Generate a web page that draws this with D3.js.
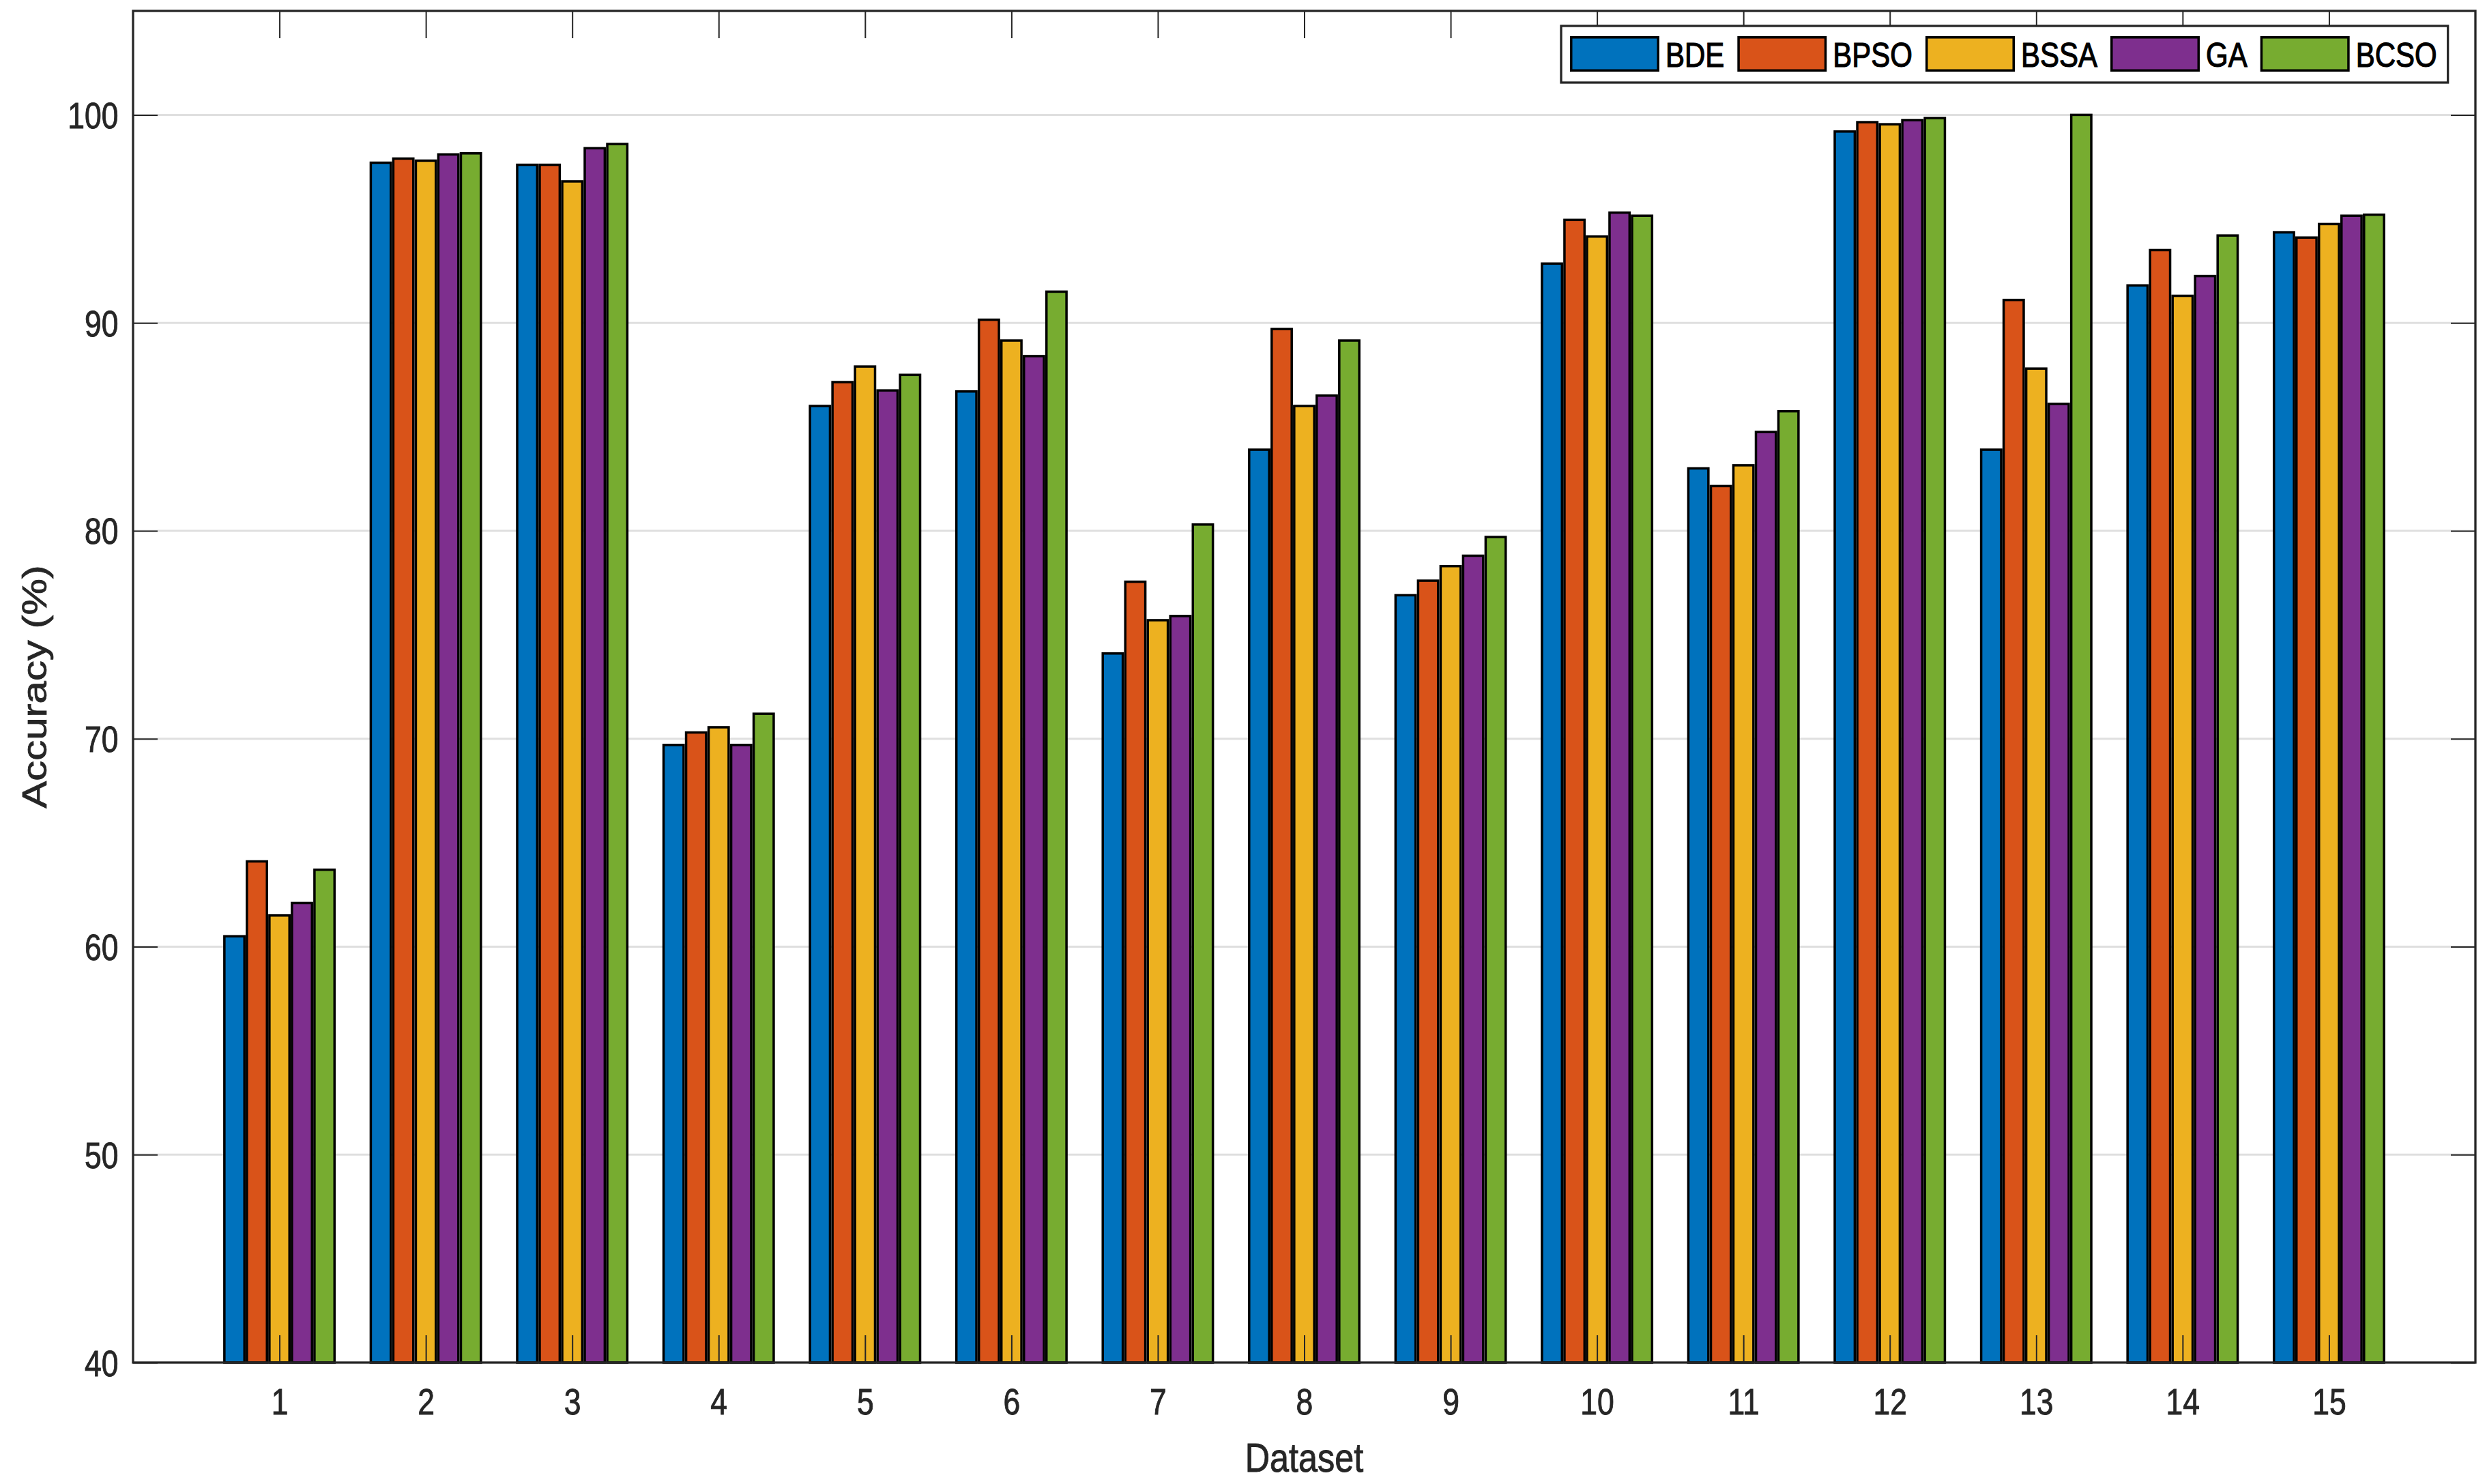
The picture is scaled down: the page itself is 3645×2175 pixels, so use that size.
<!DOCTYPE html>
<html>
<head>
<meta charset="utf-8">
<script src="https://cdn.jsdelivr.net/npm/d3@7"></script>
<style>
  html, body { margin: 0; padding: 0; background: #ffffff; }
  svg { display: block; font-family: "Liberation Sans", Arial, Helvetica, sans-serif; }
</style>
</head>
<body>
<svg id="chart" width="3645" height="2175"></svg>
<script>
// ---------------- data ----------------
const categories = [1, 2, 3, 4, 5, 6, 7, 8, 9, 10, 11, 12, 13, 14, 15];
const seriesNames = ["BDE", "BPSO", "BSSA", "GA", "BCSO"];
const BDE  = [60.5, 97.7, 97.6, 69.7, 86.0, 86.7, 74.1, 83.9, 76.9, 92.85, 83.0, 99.2, 83.9, 91.8, 94.35];
const BPSO = [64.1, 97.9, 97.6, 70.3, 87.15, 90.15, 77.55, 89.7, 77.6, 94.95, 82.15, 99.65, 91.1, 93.5, 94.1];
const BSSA = [61.5, 97.8, 96.8, 70.55, 87.9, 89.15, 75.7, 86.0, 78.3, 94.15, 83.15, 99.55, 87.8, 91.3, 94.75];
const GA   = [62.1, 98.1, 98.4, 69.7, 86.75, 88.4, 75.9, 86.5, 78.8, 95.3, 84.75, 99.75, 86.1, 92.25, 95.15];
const BCSO = [63.7, 98.15, 98.6, 71.2, 87.5, 91.5, 80.3, 89.15, 79.7, 95.15, 85.75, 99.85, 100.0, 94.2, 95.2];
const seriesValues = [BDE, BPSO, BSSA, GA, BCSO];
const seriesColors = ["#0072BD", "#D95319", "#EDB120", "#7E2F8E", "#77AC30"];
const yTicks = [40, 50, 60, 70, 80, 90, 100];
const xLabel = "Dataset";
const yLabel = "Accuracy (%)";

// ---------------- layout ----------------
const L = 195, R = 3628, T = 16, B = 1997;
const SX = 0.84;               // horizontal squeeze of all text in the reference
const axisColor = "#262626";
const txtStroke = 0.9;

const svg = d3.select("#chart");
const x = d3.scaleLinear().domain([0, 16]).range([L, R]);
const y = d3.scaleLinear().domain([40, 105]).range([B, T]);

const groupW = (x(1) - x(0)) * 5 / 6.5;
const inner = d3.scaleBand().domain(seriesNames).range([-groupW / 2, groupW / 2]);
const barFrac = 0.89;

// grid lines (behind bars)
svg.append("g").selectAll("line").data(yTicks).join("line")
  .attr("x1", L).attr("x2", R)
  .attr("y1", d => y(d)).attr("y2", d => y(d))
  .attr("stroke", "#dfdfdf").attr("stroke-width", 3);

// bars
const barData = [];
seriesNames.forEach((name, si) => {
  categories.forEach((c, ci) => barData.push({ name, si, c, v: seriesValues[si][ci] }));
});
svg.append("g").selectAll("rect").data(barData).join("rect")
  .attr("x", d => x(d.c) + inner(d.name) + inner.bandwidth() * (1 - barFrac) / 2)
  .attr("width", inner.bandwidth() * barFrac)
  .attr("y", d => y(d.v))
  .attr("height", d => y(40) - y(d.v))
  .attr("fill", d => seriesColors[d.si])
  .attr("stroke", "#000").attr("stroke-width", 3.5);

// axes (ticks drawn on top)
function styleAxis(g) {
  g.select(".domain").remove();
  g.selectAll(".tick line").attr("stroke", axisColor).attr("stroke-width", 2);
}
const xAxisB = d3.axisBottom(x).tickValues(categories).tickSizeInner(-40).tickSizeOuter(0).tickFormat(d3.format("d"));
const gxb = svg.append("g").attr("transform", `translate(0,${B})`).call(xAxisB).call(styleAxis);
gxb.selectAll(".tick text")
  .attr("y", 76).attr("dy", null)
  .attr("transform", `scale(${SX},1)`)
  .attr("font-size", 53).attr("fill", axisColor)
  .attr("stroke", axisColor).attr("stroke-width", txtStroke)
  .attr("font-family", "Liberation Sans, Arial, sans-serif");

const xAxisT = d3.axisTop(x).tickValues(categories).tickSizeInner(-40).tickSizeOuter(0).tickFormat("");
svg.append("g").attr("transform", `translate(0,${T})`).call(xAxisT).call(styleAxis);

const yAxisL = d3.axisLeft(y).tickValues(yTicks).tickSizeInner(-36).tickSizeOuter(0).tickFormat(d3.format("d"));
const gyl = svg.append("g").attr("transform", `translate(${L},0)`).call(yAxisL).call(styleAxis);
gyl.selectAll(".tick text")
  .attr("x", -21.5 / SX).attr("y", 19).attr("dy", null)
  .attr("text-anchor", "end")
  .attr("transform", `scale(${SX},1)`)
  .attr("font-size", 53).attr("fill", axisColor)
  .attr("stroke", axisColor).attr("stroke-width", txtStroke)
  .attr("font-family", "Liberation Sans, Arial, sans-serif");

const yAxisR = d3.axisRight(y).tickValues(yTicks).tickSizeInner(-36).tickSizeOuter(0).tickFormat("");
svg.append("g").attr("transform", `translate(${R},0)`).call(yAxisR).call(styleAxis);

// box
svg.append("rect").attr("x", L).attr("y", T).attr("width", R - L).attr("height", B - T)
  .attr("fill", "none").attr("stroke", axisColor).attr("stroke-width", 3.3);

// axis labels
svg.append("text")
  .attr("transform", `translate(${(L + R) / 2},2157) scale(${SX},1)`)
  .attr("text-anchor", "middle").attr("font-size", 60).attr("fill", axisColor)
  .attr("stroke", axisColor).attr("stroke-width", txtStroke)
  .text(xLabel);
svg.append("text")
  .attr("transform", `translate(68,${(T + B) / 2}) scale(${SX},1) rotate(-90)`)
  .attr("text-anchor", "middle").attr("font-size", 60).attr("fill", axisColor)
  .attr("stroke", axisColor).attr("stroke-width", txtStroke)
  .text(yLabel);

// legend
const lg = svg.append("g");
const lgBox = lg.append("rect").attr("fill", "#fff").attr("stroke", axisColor).attr("stroke-width", 3.3);
let lx = 2301;
const swW = 131, swTop = 53, swH = 52;
seriesNames.forEach((name, i) => {
  lg.append("rect").attr("x", lx + 1.75).attr("y", swTop + 1.75)
    .attr("width", swW - 3.5).attr("height", swH - 3.5)
    .attr("fill", seriesColors[i]).attr("stroke", "#000").attr("stroke-width", 3.5);
  const tx = lx + swW + 9;
  const t = lg.append("text")
    .attr("transform", `translate(${tx},98) scale(${SX},1)`)
    .attr("font-size", 50).attr("fill", "#000")
    .attr("stroke", "#000").attr("stroke-width", 1.2)
    .text(name);
  const w = t.node().getComputedTextLength() * SX;
  lx = tx + w + (i < seriesNames.length - 1 ? 19 : 16);
});
lgBox.attr("x", 2288).attr("y", 38).attr("width", lx - 2288).attr("height", 121 - 38);
</script>
</body>
</html>
